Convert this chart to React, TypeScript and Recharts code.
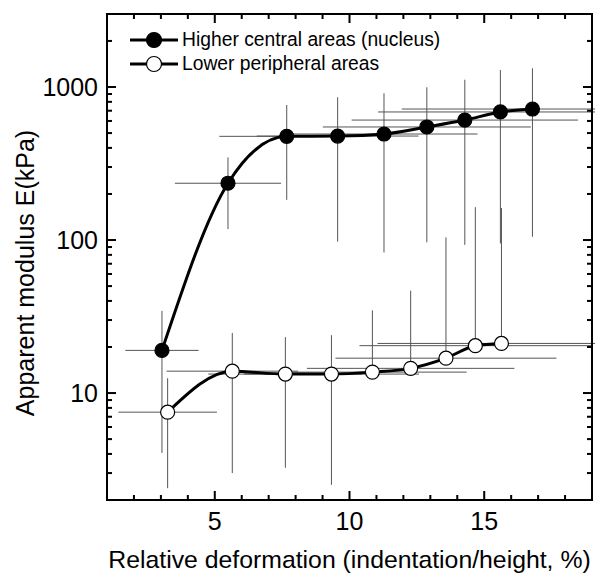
import { ComposedChart, ErrorBar, Label, Legend, Line, Scatter, XAxis, YAxis } from 'recharts';

// higher central areas (nucleus)
const nucleusX = [3.04, 5.49, 7.67, 9.56, 11.28, 12.87, 14.28, 15.6, 16.79];
const nucleusY = [19, 235, 476, 478, 493, 548, 608, 687, 718];
const nucleusXErr = [1.36, 1.97, 2.5, 3.0, 3.47, 3.86, 4.2, 4.54, 4.85];
const nucleusYLow = [4.06, 118, 183, 97.6, 83, 96.6, 93, 95, 105];
const nucleusYHigh = [34.4, 347, 763, 857, 910, 996, 1116, 1291, 1325];

// lower peripheral areas
const periphX = [3.25, 5.65, 7.62, 9.33, 10.85, 12.27, 13.58, 14.67, 15.64];
const periphY = [7.5, 13.9, 13.3, 13.3, 13.7, 14.5, 16.9, 20.4, 21.1];
const periphXErr = [1.83, 2.44, 2.86, 3.25, 3.5, 3.85, 4.1, 4.3, 4.6];
const periphYLow = [2.39, 3.0, 3.25, 2.51, null, null, null, null, null];
const periphYHigh = [12.5, 24.7, 23.2, 23.9, 34.7, 46.7, 104, 164, 162];

const seriesNames = ['Higher central areas (nucleus)', 'Lower peripheral areas'];

const xDomain = [1, 19];
const yDomain = [2, 3000];
const xTicks = [2, 3, 4, 5, 6, 7, 8, 9, 10, 11, 12, 13, 14, 15, 16, 17, 18];
const xMajor = [5, 10, 15];
const yTicks = [
  2, 3, 4, 5, 6, 7, 8, 9, 10, 20, 30, 40, 50, 60, 70, 80, 90, 100, 200, 300, 400, 500, 600, 700, 800, 900,
  1000, 2000, 3000,
];
const yMajor = [10, 100, 1000];

const FONT = '"Liberation Sans", Arial, Helvetica, sans-serif';

// layout (chart pinned to the page corner so it fills the whole 595x576 window)
const W = 595;
const H = 576;
const M = { top: 14, right: 3, bottom: 75, left: 106 };
const AXIS = 1;
const PLOT_X = M.left + AXIS;
const PLOT_Y = M.top;
const PLOT_W = W - M.left - M.right - AXIS;
const PLOT_H = H - M.top - M.bottom - AXIS;

type Row = { x: number; y: number; ex: number; ey: [number, number] };

function buildRows(
  xs: number[],
  ys: number[],
  xErr: number[],
  yLow: Array<number | null>,
  yHigh: number[]
): Row[] {
  return xs.map((x, i) => {
    const lo = yLow[i];
    return {
      x,
      y: ys[i],
      ex: xErr[i],
      ey: [lo == null ? 0 : ys[i] - lo, yHigh[i] - ys[i]],
    };
  });
}

const nucleusRows = buildRows(nucleusX, nucleusY, nucleusXErr, nucleusYLow, nucleusYHigh);
const periphRows = buildRows(periphX, periphY, periphXErr, periphYLow, periphYHigh);

// bottom tick + mirrored tick on the top edge (filled rects)
function XTick(props: any) {
  const x = Number(props.x);
  const y = Number(props.y);
  const v = props.payload.value;
  const major = xMajor.includes(v);
  const len = major ? 9 : 5;
  const top = y - PLOT_H;
  return (
    <g>
      <rect x={x - 1} y={y - len} width={2} height={len} fill="#000" />
      <rect x={x - 1} y={top} width={2} height={len} fill="#000" />
      {major && (
        <text x={x} y={y + 30} textAnchor="middle" fontSize={25} fontFamily={FONT} fill="#000">
          {v}
        </text>
      )}
    </g>
  );
}

// left tick + mirrored tick on the right edge
function YTick(props: any) {
  const x = Number(props.x);
  const y = Number(props.y);
  const v = props.payload.value;
  const major = yMajor.includes(v);
  const len = major ? 9 : 5;
  const right = x + PLOT_W;
  return (
    <g>
      <rect x={x} y={y - 1} width={len} height={2} fill="#000" />
      <rect x={right - len} y={y - 1} width={len} height={2} fill="#000" />
      {major && (
        <text x={x - 9} y={y} dy="0.36em" textAnchor="end" fontSize={25} fontFamily={FONT} fill="#000">
          {v}
        </text>
      )}
    </g>
  );
}

function Dot(props: any) {
  const { cx, cy, fill } = props;
  if (cx == null || cy == null) return <g />;
  return <circle cx={cx} cy={cy} r={7} fill={fill} stroke="#000" strokeWidth={1.2} />;
}

function LegendBox() {
  const fills = ['#000', '#fff'];
  return (
    <div style={{ fontFamily: FONT, fontSize: 19.3, lineHeight: '24px', color: '#000' }}>
      {seriesNames.map((name, i) => (
        <div key={name} style={{ display: 'flex', alignItems: 'center', height: 24 }}>
          <svg width={48} height={20} style={{ marginRight: 4 }}>
            <line x1={0} x2={48} y1={10} y2={10} stroke="#000" strokeWidth={3} />
            <circle cx={24} cy={10} r={7.5} fill={fills[i]} stroke="#000" strokeWidth={1.2} />
          </svg>
          <span>{name}</span>
        </div>
      ))}
    </div>
  );
}

const axisLine = { stroke: '#000', strokeWidth: 2 };

export default function App() {
  return (
    <div style={{ position: 'absolute', left: 0, top: 0, width: W, height: H, background: '#fff' }}>
      <ComposedChart width={W} height={H} margin={M} style={{ fontFamily: FONT }}>
        <XAxis
          type="number"
          dataKey="x"
          domain={xDomain}
          allowDataOverflow
          ticks={xTicks}
          interval={0}
          height={AXIS}
          tickSize={0}
          tickMargin={0}
          tickLine={false}
          axisLine={axisLine}
          tick={(p: any) => <XTick {...p} />}
        >
          <Label
            content={(p: any) => {
              const vb = p.viewBox;
              return (
                <text
                  x={vb.x + vb.width / 2}
                  y={vb.y + 68}
                  textAnchor="middle"
                  fontSize={24.8}
                  fontFamily={FONT}
                  fill="#000"
                >
                  Relative deformation (indentation/height, %)
                </text>
              );
            }}
          />
        </XAxis>
        <YAxis
          type="number"
          dataKey="y"
          scale="log"
          domain={yDomain}
          allowDataOverflow
          ticks={yTicks}
          interval={0}
          width={AXIS}
          tickSize={0}
          tickMargin={0}
          tickLine={false}
          axisLine={axisLine}
          tick={(p: any) => <YTick {...p} />}
        >
          <Label
            content={(p: any) => {
              const vb = p.viewBox;
              const cx = vb.x + vb.width - 82;
              const cy = vb.y + vb.height / 2 + 16;
              return (
                <text
                  x={cx}
                  y={cy}
                  transform={`rotate(-90 ${cx} ${cy})`}
                  textAnchor="middle"
                  dominantBaseline="central"
                  fontSize={25}
                  fontFamily={FONT}
                  fill="#000"
                >
                  Apparent modulus E(kPa)
                </text>
              );
            }}
          />
        </YAxis>

        <Scatter data={nucleusRows} shape={() => <g />} isAnimationActive={false} legendType="none">
          <ErrorBar dataKey="ex" direction="x" width={0} stroke="#555" strokeWidth={1} />
          <ErrorBar dataKey="ey" direction="y" width={0} stroke="#555" strokeWidth={1} />
        </Scatter>
        <Scatter data={periphRows} shape={() => <g />} isAnimationActive={false} legendType="none">
          <ErrorBar dataKey="ex" direction="x" width={0} stroke="#555" strokeWidth={1} />
          <ErrorBar dataKey="ey" direction="y" width={0} stroke="#555" strokeWidth={1} />
        </Scatter>

        <Line
          data={nucleusRows}
          dataKey="y"
          type="monotone"
          stroke="#000"
          strokeWidth={3}
          dot={false}
          isAnimationActive={false}
          name={seriesNames[0]}
        />
        <Line
          data={periphRows}
          dataKey="y"
          type="monotone"
          stroke="#000"
          strokeWidth={3}
          dot={false}
          isAnimationActive={false}
          name={seriesNames[1]}
        />

        <Scatter
          data={nucleusRows}
          fill="#000"
          shape={(p: any) => <Dot {...p} fill="#000" />}
          isAnimationActive={false}
          name={seriesNames[0]}
        />
        <Scatter
          data={periphRows}
          fill="#fff"
          shape={(p: any) => <Dot {...p} fill="#fff" />}
          isAnimationActive={false}
          name={seriesNames[1]}
        />

        <Legend
          layout="vertical"
          align="center"
          verticalAlign="middle"
          content={() => <LegendBox />}
          wrapperStyle={{ left: 130, top: 28, width: 'auto', height: 'auto' }}
        />
      </ComposedChart>
      {/* plot frame */}
      <div
        style={{
          position: 'absolute',
          left: PLOT_X - 1,
          top: PLOT_Y - 1,
          width: PLOT_W + 2,
          height: PLOT_H + 2,
          boxSizing: 'border-box',
          border: '2px solid #000',
          pointerEvents: 'none',
        }}
      />
    </div>
  );
}
